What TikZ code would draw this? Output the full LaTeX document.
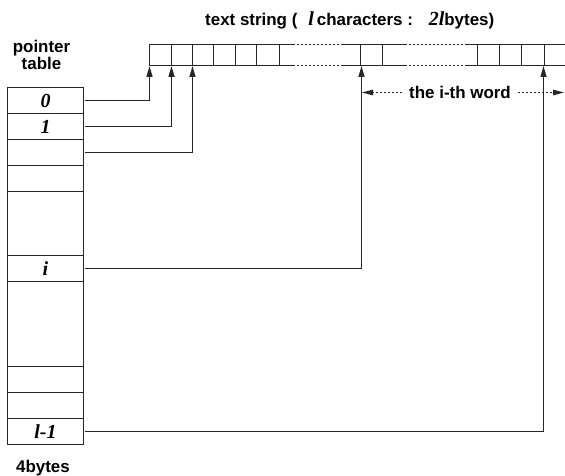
\documentclass[tikz,border=0pt]{standalone}
\usepackage{fontspec}
\setmainfont{Liberation Sans}
\newfontfamily\serifit{Liberation Serif}
\usetikzlibrary{arrows.meta}
\begin{document}
\begin{tikzpicture}[x=1bp,y=-1bp,
  line/.style={draw=black!85,line width=1.3bp},
  dotline/.style={draw=black!85,line width=1.3bp,dash pattern=on 2bp off 2bp},
  ptr/.style={draw=black!85,line width=1.3bp,-{Triangle[length=11bp,width=6bp]}},
  dimarrow/.style={draw=black!85,line width=1.3bp,dash pattern=on 2bp off 2bp,-{Triangle[length=11bp,width=5.5bp]}},
  sans/.style={font=\fontsize{17}{16.3}\selectfont\bfseries},
  idx/.style={font=\fontsize{20}{20}\selectfont\serifit\bfseries\itshape},
  row/.style={rectangle,minimum width=76bp,minimum height=26bp,inner sep=0pt,outer sep=0pt,anchor=north west}
]
\useasboundingbox (0,0) rectangle (565,476);

% titles
\node[sans,anchor=base west,inner sep=0pt] (title) at (205,26)
  {text string (\hspace{11pt}{\serifit\itshape\fontsize{20}{20}\selectfont l}\hspace{3pt}characters :\hspace{16pt}{\serifit\itshape\fontsize{20}{20}\selectfont 2l}bytes)};
\node[sans,align=center] (ptitle) at (41.5,55) {pointer\\table};
\node[sans,anchor=base] (bytes) at (43,472) {4bytes};

% pointer table rows
\node[row] (r0) at (7.5,87.5) {};
\node[idx] at (r0.center) {0};
\node[row] (r1) at (7.5,113.5) {};
\node[idx] at (r1.center) {1};
\node[row] (r2) at (7.5,139.5) {};
\node[row] (r3) at (7.5,165.5) {};
\node[row] (ri) at (7.5,255.5) {};
\node[idx] at (ri.center) {i};
\node[row] (rx) at (7.5,366.5) {};
\node[row] (ry) at (7.5,392.5) {};
\node[row] (rl) at (7.5,418.5) {};
\node[idx] at (rl.center) {l-1};

% table frame and separators
\draw[line] (r0.north west) rectangle (rl.south east);
\foreach \r in {r0,r1,r2,r3,ri,rx,ry}
  \draw[line] (\r.south west) -- (\r.south east);
\draw[line] (ri.north west) -- (ri.north east);
\draw[line] (rx.north west) -- (rx.north east);

% text string
\draw[line] (293,44.5) -- (149.5,44.5) -- (149.5,65.5) -- (293,65.5);
\foreach \x in {171.5,192.5,213.5,235.5,256.5,279.5} \draw[line] (\x,44.5) -- (\x,65.5);
\draw[dotline] (293,44.5) -- (343,44.5) (293,65.5) -- (343,65.5);
\draw[line] (343,44.5) -- (405,44.5) (343,65.5) -- (405,65.5);
\foreach \x in {360.5,382.5} \draw[line] (\x,44.5) -- (\x,65.5);
\draw[dotline] (405,44.5) -- (465,44.5) (405,65.5) -- (465,65.5);
\draw[line] (465,44.5) -- (566,44.5) (465,65.5) -- (566,65.5);
\foreach \x in {477.5,499.5,521.5,544.5} \draw[line] (\x,44.5) -- (\x,65.5);

\coordinate (c0) at (149.5,66);
\coordinate (c1) at (171.5,66);
\coordinate (c2) at (192.5,66);
\coordinate (ci) at (361.5,66);
\coordinate (cl) at (543.5,66);

% pointers
\draw[ptr] ([xshift=1.5bp]r0.east) -| (c0);
\draw[ptr] ([xshift=1.5bp]r1.east) -| (c1);
\draw[ptr] ([xshift=1.5bp]r2.east) -| (c2);
\draw[ptr] ([xshift=1.5bp]ri.east) -| (ci);
\draw[ptr] ([xshift=1.5bp]rl.east) -| (cl);

% i-th word
\node[sans,inner xsep=7pt] (word) at (460,92.5) {the i-th word};
\coordinate (wl) at (362,92.5);
\coordinate (wr) at (564,92.5);
\draw[dimarrow] (word.west) -- (wl);
\draw[dimarrow] (word.east) -- (wr);
\end{tikzpicture}
\end{document}
